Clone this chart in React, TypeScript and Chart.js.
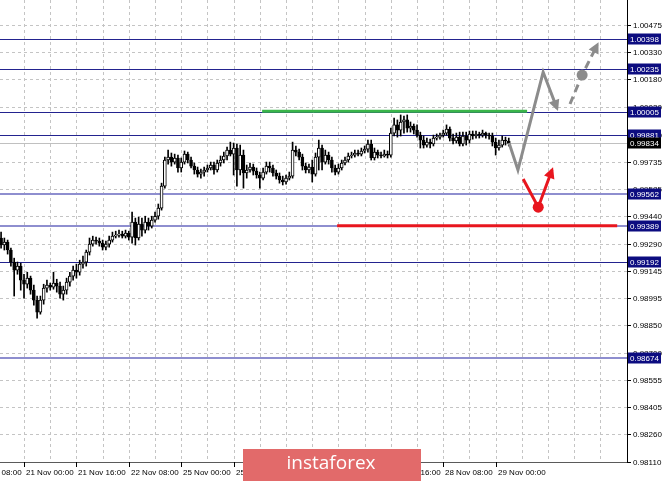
import React, { useEffect, useRef } from "react";
import { Chart, registerables } from "chart.js";

Chart.register(...registerables);

// ---- data (EUR/CHF-like hourly candles) ----
const firstBar = 9; // bar number of first candle (bars counted from 20 Nov 08:00)

const opens = [
  0.99322, 0.99284, 0.99300, 0.99257, 0.99192, 0.99148, 0.99170, 0.99094, 0.99072, 0.99105,
  0.99040, 0.98986, 0.98921, 0.98986, 0.99051, 0.99067, 0.99056, 0.99078, 0.99062, 0.99018,
  0.99040, 0.99083, 0.99116, 0.99148, 0.99137, 0.99181, 0.99192, 0.99246, 0.99289, 0.99311,
  0.99305, 0.99294, 0.99273, 0.99289, 0.99311, 0.99332, 0.99338, 0.99343, 0.99332, 0.99349,
  0.99327, 0.99408, 0.99322, 0.99397, 0.99365, 0.99408, 0.99386, 0.99419, 0.99440, 0.99484,
  0.99603, 0.99744, 0.99760, 0.99733, 0.99755, 0.99701, 0.99733, 0.99776, 0.99744, 0.99711,
  0.99690, 0.99668, 0.99679, 0.99690, 0.99701, 0.99717, 0.99690, 0.99728, 0.99744, 0.99766,
  0.99798, 0.99776, 0.99809, 0.99690, 0.99771, 0.99674, 0.99690, 0.99706, 0.99684, 0.99663,
  0.99646, 0.99679, 0.99711, 0.99701, 0.99674, 0.99657, 0.99636, 0.99625, 0.99646, 0.99657,
  0.99798, 0.99787, 0.99760, 0.99711, 0.99690, 0.99706, 0.99668, 0.99760, 0.99809, 0.99733,
  0.99771, 0.99744, 0.99701, 0.99679, 0.99701, 0.99728, 0.99744, 0.99766, 0.99771, 0.99782,
  0.99776, 0.99793, 0.99803, 0.99831, 0.99755, 0.99787, 0.99771, 0.99766, 0.99776, 0.99771,
  0.99890, 0.99934, 0.99906, 0.99950, 0.99961, 0.99917, 0.99928, 0.99906, 0.99879, 0.99852,
  0.99825, 0.99841, 0.99831, 0.99863, 0.99868, 0.99879, 0.99890, 0.99912, 0.99863, 0.99847,
  0.99868, 0.99831, 0.99874, 0.99852, 0.99885, 0.99874, 0.99885, 0.99879, 0.99890, 0.99879,
  0.99874, 0.99841, 0.99809, 0.99825, 0.99852, 0.99847,
];

const highs = [
  0.99354, 0.99322, 0.99311, 0.99267, 0.99213, 0.99192, 0.99186, 0.99126, 0.99137, 0.99116,
  0.99067, 0.99008, 0.99008, 0.99072, 0.99094, 0.99078, 0.99137, 0.99099, 0.99083, 0.99062,
  0.99105, 0.99137, 0.99170, 0.99181, 0.99202, 0.99224, 0.99257, 0.99322, 0.99332, 0.99327,
  0.99322, 0.99311, 0.99305, 0.99332, 0.99354, 0.99359, 0.99365, 0.99359, 0.99365, 0.99359,
  0.99462, 0.99430, 0.99435, 0.99430, 0.99440, 0.99430, 0.99440, 0.99462, 0.99506, 0.99619,
  0.99760, 0.99798, 0.99782, 0.99776, 0.99771, 0.99755, 0.99793, 0.99787, 0.99760, 0.99728,
  0.99706, 0.99695, 0.99706, 0.99717, 0.99733, 0.99733, 0.99744, 0.99766, 0.99787, 0.99814,
  0.99841, 0.99836, 0.99831, 0.99825, 0.99798, 0.99717, 0.99728, 0.99722, 0.99701, 0.99679,
  0.99701, 0.99733, 0.99733, 0.99717, 0.99690, 0.99674, 0.99657, 0.99663, 0.99679, 0.99841,
  0.99820, 0.99803, 0.99776, 0.99728, 0.99722, 0.99744, 0.99782, 0.99852, 0.99825, 0.99798,
  0.99787, 0.99760, 0.99717, 0.99722, 0.99744, 0.99760, 0.99782, 0.99787, 0.99798, 0.99798,
  0.99809, 0.99820, 0.99852, 0.99852, 0.99809, 0.99798, 0.99787, 0.99798, 0.99793, 0.99917,
  0.99971, 0.99961, 0.99988, 0.99982, 0.99988, 0.99950, 0.99939, 0.99934, 0.99895, 0.99874,
  0.99863, 0.99857, 0.99879, 0.99885, 0.99890, 0.99906, 0.99934, 0.99923, 0.99885, 0.99890,
  0.99895, 0.99895, 0.99895, 0.99901, 0.99901, 0.99901, 0.99895, 0.99906, 0.99895, 0.99890,
  0.99890, 0.99863, 0.99852, 0.99874, 0.99868, 0.99863,
];

const lows = [
  0.99267, 0.99257, 0.99235, 0.99170, 0.99008, 0.99126, 0.99040, 0.98997, 0.99051, 0.99018,
  0.98959, 0.98888, 0.98910, 0.98964, 0.99029, 0.99040, 0.99045, 0.99029, 0.98997, 0.98986,
  0.99018, 0.99062, 0.99094, 0.99105, 0.99121, 0.99159, 0.99170, 0.99230, 0.99278, 0.99289,
  0.99278, 0.99257, 0.99257, 0.99273, 0.99300, 0.99322, 0.99327, 0.99322, 0.99322, 0.99311,
  0.99294, 0.99284, 0.99311, 0.99332, 0.99349, 0.99365, 0.99376, 0.99408, 0.99424, 0.99473,
  0.99592, 0.99722, 0.99711, 0.99722, 0.99679, 0.99679, 0.99722, 0.99728, 0.99701, 0.99668,
  0.99652, 0.99646, 0.99657, 0.99679, 0.99690, 0.99668, 0.99679, 0.99711, 0.99728, 0.99744,
  0.99766, 0.99663, 0.99603, 0.99663, 0.99592, 0.99646, 0.99679, 0.99663, 0.99646, 0.99592,
  0.99636, 0.99668, 0.99679, 0.99657, 0.99641, 0.99619, 0.99609, 0.99614, 0.99636, 0.99646,
  0.99766, 0.99744, 0.99690, 0.99674, 0.99674, 0.99625, 0.99657, 0.99690, 0.99690, 0.99722,
  0.99722, 0.99679, 0.99663, 0.99668, 0.99690, 0.99717, 0.99733, 0.99755, 0.99760, 0.99766,
  0.99766, 0.99782, 0.99787, 0.99744, 0.99744, 0.99755, 0.99755, 0.99760, 0.99755, 0.99760,
  0.99874, 0.99868, 0.99874, 0.99890, 0.99895, 0.99895, 0.99885, 0.99868, 0.99809, 0.99809,
  0.99814, 0.99809, 0.99820, 0.99852, 0.99857, 0.99868, 0.99879, 0.99847, 0.99831, 0.99836,
  0.99820, 0.99820, 0.99825, 0.99836, 0.99857, 0.99863, 0.99863, 0.99868, 0.99863, 0.99857,
  0.99820, 0.99771, 0.99798, 0.99814, 0.99825, 0.99820,
];

const closes = [
  0.99284, 0.99300, 0.99257, 0.99192, 0.99148, 0.99170, 0.99094, 0.99072, 0.99105, 0.99040,
  0.98986, 0.98921, 0.98986, 0.99051, 0.99067, 0.99056, 0.99078, 0.99062, 0.99018, 0.99040,
  0.99083, 0.99116, 0.99148, 0.99137, 0.99181, 0.99192, 0.99246, 0.99289, 0.99311, 0.99305,
  0.99294, 0.99273, 0.99289, 0.99311, 0.99332, 0.99338, 0.99343, 0.99332, 0.99349, 0.99327,
  0.99408, 0.99322, 0.99397, 0.99365, 0.99408, 0.99386, 0.99419, 0.99440, 0.99484, 0.99603,
  0.99744, 0.99760, 0.99733, 0.99755, 0.99701, 0.99733, 0.99776, 0.99744, 0.99711, 0.99690,
  0.99668, 0.99679, 0.99690, 0.99701, 0.99717, 0.99690, 0.99728, 0.99744, 0.99766, 0.99798,
  0.99776, 0.99809, 0.99690, 0.99771, 0.99674, 0.99690, 0.99706, 0.99684, 0.99663, 0.99646,
  0.99679, 0.99711, 0.99701, 0.99674, 0.99657, 0.99636, 0.99625, 0.99646, 0.99657, 0.99798,
  0.99787, 0.99760, 0.99711, 0.99690, 0.99706, 0.99668, 0.99760, 0.99809, 0.99733, 0.99771,
  0.99744, 0.99701, 0.99679, 0.99701, 0.99728, 0.99744, 0.99766, 0.99771, 0.99782, 0.99776,
  0.99793, 0.99803, 0.99831, 0.99755, 0.99787, 0.99771, 0.99766, 0.99776, 0.99771, 0.99890,
  0.99934, 0.99906, 0.99950, 0.99961, 0.99917, 0.99928, 0.99906, 0.99879, 0.99852, 0.99825,
  0.99841, 0.99831, 0.99863, 0.99868, 0.99879, 0.99890, 0.99912, 0.99863, 0.99847, 0.99868,
  0.99831, 0.99874, 0.99852, 0.99885, 0.99874, 0.99885, 0.99879, 0.99890, 0.99879, 0.99874,
  0.99841, 0.99809, 0.99825, 0.99852, 0.99847, 0.99834,
];

// time axis
const xTickBars = [0, 16, 32, 48, 64, 80, 96, 112, 128, 144, 160];
const xTickLabels = [
  "20 Nov 08:00", "21 Nov 00:00", "21 Nov 16:00", "22 Nov 08:00", "25 Nov 00:00",
  "25 Nov 16:00", "26 Nov 08:00", "27 Nov 00:00", "27 Nov 16:00", "28 Nov 08:00", "29 Nov 00:00",
];
const xMin = 8.67;
const xMax = 200.1;
const gridStepBars = 8;

// price axis
const yMin = 0.9811;
const yMax = 1.0061;
const yTickValues = [
  0.98110, 0.98260, 0.98405, 0.98555, 0.98700, 0.98850, 0.98995, 0.99145, 0.99290,
  0.99440, 0.99585, 0.99735, 0.99880, 1.00030, 1.00180, 1.00330, 1.00475,
];

// horizontal levels
const levels = [1.00398, 1.00235, 1.00005, 0.99881, 0.99562, 0.99389, 0.99192, 0.98674];
const levelStrong = [true, true, true, true, false, false, true, false];
const currentPrice = 0.99834;

// drawn segments / forecast arrows
const greenLevel = 1.00008;
const greenFrom = 88.7;
const greenTo = 169.6;
const redLevel = 0.99389;
const redFrom = 111.6;
const redTo = 197.1;
const grayPathX = [164.1, 166.8, 174.5, 178.7];
const grayPathY = [0.99836, 0.9969, 1.0022, 1.00025];
const grayDashX = [182.7, 186.4, 191.0];
const grayDashY = [1.00047, 1.00204, 1.00367];
const redPathX = [168.4, 173.0, 177.2];
const redPathY = [0.99641, 0.99489, 0.9969];

const FONT = '8px "Liberation Sans", Arial, sans-serif';
const NAVY = "#23238f";
const LAVENDER = "#8e8ecf";
const GRAY_ARROW = "#8c8c8c";
const RED = "#e8161e";

export default function App() {
  const ref = useRef<HTMLCanvasElement>(null);

  useEffect(() => {
    const canvas = ref.current;
    if (!canvas) return;

    const barNums = closes.map((_, j) => firstBar + j);
    const wickData = barNums.map((x, j) => ({ x, y: [lows[j], highs[j]] }));
    const bodyData = barNums.map((x, j) => ({ x, y: [opens[j], closes[j]] }));
    const bodyFill = closes.map((c, j) => (c >= opens[j] ? "#ffffff" : "#000000"));
    const pts = (xs: number[], ys: number[]) => xs.map((x, k) => ({ x, y: ys[k] }));
    const arrowSets = ["grayPath", "grayDash", "redPath"];

    const overlay = {
      id: "mt4overlay",
      beforeDatasetsDraw(chart: any) {
        const { ctx, chartArea: ca } = chart;
        const xs = chart.scales.x;
        const ys = chart.scales.y;
        ctx.save();
        ctx.beginPath();
        ctx.rect(ca.left, ca.top, ca.right - ca.left, ca.bottom - ca.top);
        ctx.clip();
        // dashed grid
        ctx.strokeStyle = "#c4c4c4";
        ctx.lineWidth = 1;
        ctx.setLineDash([3, 3]);
        for (let b = Math.ceil(xMin / gridStepBars) * gridStepBars; b <= xMax; b += gridStepBars) {
          const px = Math.round(xs.getPixelForValue(b)) + 0.5;
          ctx.beginPath();
          ctx.moveTo(px, ca.top);
          ctx.lineTo(px, ca.bottom);
          ctx.stroke();
        }
        yTickValues.forEach((v) => {
          const py = Math.round(ys.getPixelForValue(v)) + 0.5;
          ctx.beginPath();
          ctx.moveTo(ca.left, py);
          ctx.lineTo(ca.right, py);
          ctx.stroke();
        });
        ctx.setLineDash([]);
        // current price line
        {
          const py = Math.round(ys.getPixelForValue(currentPrice)) + 0.5;
          ctx.strokeStyle = "#c0c0c0";
          ctx.beginPath();
          ctx.moveTo(ca.left, py);
          ctx.lineTo(ca.right, py);
          ctx.stroke();
        }
        // level lines
        levels.forEach((lv, i) => {
          const strong = levelStrong[i];
          const py = strong
            ? Math.round(ys.getPixelForValue(lv)) + 0.5
            : Math.round(ys.getPixelForValue(lv));
          ctx.strokeStyle = strong ? NAVY : LAVENDER;
          ctx.lineWidth = strong ? 1 : 2;
          ctx.beginPath();
          ctx.moveTo(ca.left, py);
          ctx.lineTo(ca.right, py);
          ctx.stroke();
        });
        ctx.restore();
      },
      afterDatasetsDraw(chart: any) {
        const { ctx } = chart;
        chart.data.datasets.forEach((ds: any, i: number) => {
          if (!arrowSets.includes(ds.label)) return;
          const meta = chart.getDatasetMeta(i);
          const n = meta.data.length;
          const p1 = meta.data[n - 2];
          const p2 = meta.data[n - 1];
          const ang = Math.atan2(p2.y - p1.y, p2.x - p1.x);
          const len = 11;
          const half = 5.5;
          const tipX = p2.x + Math.cos(ang) * 3;
          const tipY = p2.y + Math.sin(ang) * 3;
          const bx = tipX - Math.cos(ang) * len;
          const by = tipY - Math.sin(ang) * len;
          ctx.save();
          ctx.fillStyle = ds.borderColor;
          ctx.beginPath();
          ctx.moveTo(tipX, tipY);
          ctx.lineTo(bx + Math.cos(ang + Math.PI / 2) * half, by + Math.sin(ang + Math.PI / 2) * half);
          ctx.lineTo(bx + Math.cos(ang - Math.PI / 2) * half, by + Math.sin(ang - Math.PI / 2) * half);
          ctx.closePath();
          ctx.fill();
          ctx.restore();
        });
      },
      afterDraw(chart: any) {
        const { ctx, chartArea: ca } = chart;
        const xs = chart.scales.x;
        const ys = chart.scales.y;
        ctx.save();
        // axis lines
        ctx.strokeStyle = "#000000";
        ctx.lineWidth = 1;
        ctx.beginPath();
        ctx.moveTo(Math.round(ca.right) + 0.5, 0);
        ctx.lineTo(Math.round(ca.right) + 0.5, Math.round(ca.bottom) + 1);
        ctx.stroke();
        ctx.strokeStyle = "#5a5a5a";
        ctx.beginPath();
        ctx.moveTo(0, Math.round(ca.bottom) + 0.5);
        ctx.lineTo(Math.round(ca.right) + 1, Math.round(ca.bottom) + 0.5);
        ctx.stroke();

        ctx.font = FONT;
        ctx.textBaseline = "middle";
        ctx.textAlign = "left";
        // y ticks
        ctx.strokeStyle = "#000000";
        ctx.fillStyle = "#000000";
        yTickValues.forEach((v) => {
          const py = Math.round(ys.getPixelForValue(v)) + 0.5;
          ctx.beginPath();
          ctx.moveTo(ca.right, py);
          ctx.lineTo(ca.right + 4, py);
          ctx.stroke();
          ctx.fillText(v.toFixed(5), ca.right + 6, py);
        });
        // x ticks
        ctx.textBaseline = "alphabetic";
        xTickBars.forEach((b, k) => {
          const px = Math.round(xs.getPixelForValue(b)) + 0.5;
          ctx.beginPath();
          ctx.moveTo(px, ca.bottom);
          ctx.lineTo(px, ca.bottom + 5);
          ctx.stroke();
          ctx.fillText(xTickLabels[k], px + 1.5, ca.bottom + 13);
        });
        // level labels
        ctx.textBaseline = "middle";
        const boxW = 33;
        const drawBox = (v: number, bg: string) => {
          const py = Math.round(ys.getPixelForValue(v));
          ctx.fillStyle = bg;
          ctx.fillRect(ca.right + 1, py - 5.5, boxW, 11);
          ctx.fillStyle = "#ffffff";
          ctx.fillText(v.toFixed(5), ca.right + 3, py + 0.5);
        };
        levels.forEach((lv) => drawBox(lv, "#0c0c80"));
        drawBox(currentPrice, "#000000");

        // watermark
        ctx.fillStyle = "#e26a6a";
        ctx.fillRect(243, 449, 178, 32);
        ctx.fillStyle = "#ffffff";
        ctx.font = '19px "Open Sans", "Liberation Sans", sans-serif';
        ctx.textAlign = "center";
        ctx.textBaseline = "middle";
        ctx.fillText("instaforex", 331, 464);
        ctx.restore();
      },
    };

    const chart = new Chart(canvas, {
      type: "bar",
      data: {
        datasets: [
          {
            type: "line",
            label: "grayPath",
            data: pts(grayPathX, grayPathY),
            borderColor: GRAY_ARROW,
            borderWidth: 3,
            pointRadius: 0,
            tension: 0,
            order: 0,
          },
          {
            type: "line",
            label: "grayDash",
            data: pts(grayDashX, grayDashY),
            borderColor: GRAY_ARROW,
            borderWidth: 3,
            borderDash: [8, 5],
            pointRadius: [0, 5.5, 0],
            pointBackgroundColor: GRAY_ARROW,
            pointBorderWidth: 0,
            tension: 0,
            order: 0,
          },
          {
            type: "line",
            label: "redPath",
            data: pts(redPathX, redPathY),
            borderColor: RED,
            borderWidth: 3,
            pointRadius: [0, 5.5, 0],
            pointBackgroundColor: RED,
            pointBorderWidth: 0,
            tension: 0,
            order: 0,
          },
          {
            type: "line",
            label: "green",
            data: [
              { x: greenFrom, y: greenLevel },
              { x: greenTo, y: greenLevel },
            ],
            borderColor: "#3ab54a",
            borderWidth: 3,
            pointRadius: 0,
            order: 1,
          },
          {
            type: "line",
            label: "red",
            data: [
              { x: redFrom, y: redLevel },
              { x: redTo, y: redLevel },
            ],
            borderColor: RED,
            borderWidth: 3,
            pointRadius: 0,
            order: 1,
          },
          {
            type: "bar",
            label: "bodies",
            data: bodyData as any,
            backgroundColor: bodyFill,
            borderColor: "#000000",
            borderWidth: 1,
            borderSkipped: false,
            barThickness: 3,
            minBarLength: 1,
            grouped: false,
            order: 5,
          },
          {
            type: "bar",
            label: "wicks",
            data: wickData as any,
            backgroundColor: "#000000",
            borderWidth: 0,
            barThickness: 1,
            grouped: false,
            order: 6,
          },
        ] as any,
      },
      options: {
        responsive: false,
        maintainAspectRatio: false,
        animation: false,
        devicePixelRatio: 1,
        events: [],
        layout: { padding: 0 },
        plugins: { legend: { display: false }, tooltip: { enabled: false } },
        scales: {
          x: {
            type: "linear",
            min: xMin,
            max: xMax,
            offset: false,
            ticks: { display: false },
            grid: { display: false },
            border: { display: false },
            afterFit: (s: any) => {
              s.height = 19;
            },
          },
          y: {
            type: "linear",
            position: "right",
            min: yMin,
            max: yMax,
            ticks: { display: false },
            grid: { display: false },
            border: { display: false },
            afterFit: (s: any) => {
              s.width = 38;
            },
          },
        },
      } as any,
      plugins: [overlay],
    });
    return () => chart.destroy();
  }, []);

  return (
    <div style={{ position: "fixed", left: 0, top: 0, width: 665, height: 481, background: "#ffffff" }}>
      <canvas ref={ref} width={665} height={481} style={{ display: "block", width: 665, height: 481 }} />
    </div>
  );
}
